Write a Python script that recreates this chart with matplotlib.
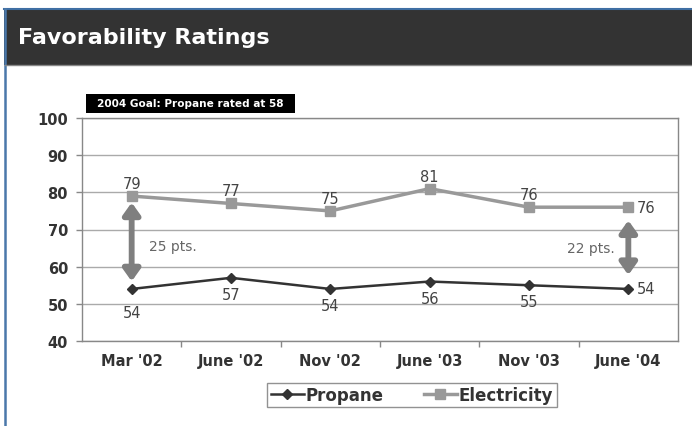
import matplotlib.pyplot as plt
from matplotlib.patches import Rectangle, FancyArrowPatch
from matplotlib.lines import Line2D

categories = ["Mar '02", "June '02", "Nov '02", "June '03", "Nov '03", "June '04"]
propane = [54, 57, 54, 56, 55, 54]
electricity = [79, 77, 75, 81, 76, 76]
gap_labels = ["25 pts.", "22 pts."]
goal_text = "2004 Goal: Propane rated at 58"

W, H = 692, 427


def fx(px):
    return px / W


def fy(py):
    return 1 - py / H


fig = plt.figure(figsize=(W / 100, H / 100), dpi=100)
fig.patch.set_facecolor("white")

# header bar + frame lines
fig.add_artist(Rectangle((fx(4), fy(66)), 1, fy(10) - fy(66), transform=fig.transFigure,
                         facecolor="#333333", edgecolor="none", zorder=0))
fig.add_artist(Line2D([fx(4), 1], [fy(10), fy(10)], transform=fig.transFigure,
                      color="#3f6fa3", linewidth=1.5))
fig.add_artist(Line2D([fx(4.5), fx(4.5)], [fy(10), 0], transform=fig.transFigure,
                      color="#4a78aa", linewidth=1.8))
fig.add_artist(Line2D([fx(5), 1], [fy(66), fy(66)], transform=fig.transFigure,
                      color="#888888", linewidth=1.0))
fig.text(fx(18), fy(38), "Favorability Ratings", color="white", fontsize=16,
         fontweight="bold", va="center", ha="left")

# plot area
ax = fig.add_axes([fx(82), fy(342), fx(678) - fx(82), fy(119) - fy(342)])
x = list(range(len(categories)))
ax.set_xlim(-0.5, len(categories) - 0.5)
ax.set_ylim(40, 100)
ax.set_yticks(range(40, 101, 10))
ax.yaxis.grid(True, color="#aaaaaa", linewidth=1.0)
ax.set_axisbelow(True)
for sp in ax.spines.values():
    sp.set_color("#888888")
    sp.set_linewidth(1.0)
ax.tick_params(axis="y", colors="#888888", length=4, width=1, labelcolor="#333333",
               labelsize=10.5, pad=6)
ax.set_xticks(x)
ax.set_xticklabels(categories)
ax.set_xticks([i + 0.5 for i in x[:-1]], minor=True)
ax.tick_params(axis="x", which="major", length=0, labelcolor="#333333", labelsize=10.5, pad=9)
ax.tick_params(axis="x", which="minor", length=4, width=1, colors="#888888")
for lbl in ax.get_xticklabels() + ax.get_yticklabels():
    lbl.set_fontweight("bold")

ax.plot(x, electricity, color="#999999", linewidth=2.5, marker="s", markersize=7,
        label="Electricity", zorder=3)
ax.plot(x, propane, color="#333333", linewidth=1.8, marker="D", markersize=5,
        label="Propane", zorder=3)

for i, v in enumerate(electricity):
    if i == len(x) - 1:
        ax.annotate(str(v), (i, v), xytext=(6, 0), textcoords="offset points",
                    ha="left", va="center", fontsize=10.5, color="#444444")
    else:
        ax.annotate(str(v), (i, v), xytext=(0, 9), textcoords="offset points",
                    ha="center", va="center", fontsize=10.5, color="#444444")
for i, v in enumerate(propane):
    if i == len(x) - 1:
        ax.annotate(str(v), (i, v), xytext=(6, 0), textcoords="offset points",
                    ha="left", va="center", fontsize=10.5, color="#444444")
    else:
        off = -17 if i == 0 else -12
        ax.annotate(str(v), (i, v), xytext=(0, off), textcoords="offset points",
                    ha="center", va="center", fontsize=10.5, color="#444444")

# gap arrows
for xi, y0, y1 in [(0, 55.3, 78.0), (len(x) - 1, 57.0, 73.2)]:
    ax.add_patch(FancyArrowPatch((xi, y0), (xi, y1),
                                 arrowstyle="<|-|>,head_length=0.35,head_width=0.25",
                                 mutation_scale=20, color="#7f7f7f", linewidth=4.2,
                                 zorder=4))
ax.text(0.17, 65.5, gap_labels[0], color="#666666", fontsize=10, ha="left", va="center")
ax.text(4.86, 65.0, gap_labels[1], color="#666666", fontsize=10, ha="right", va="center")

# goal box
fig.add_artist(Rectangle((fx(86), fy(114)), fx(295) - fx(86), fy(95) - fy(114),
                         transform=fig.transFigure, facecolor="black", edgecolor="none"))
fig.text(fx(190.5), fy(104.5), goal_text, color="white", fontsize=7.6, fontweight="bold",
         ha="center", va="center")

handles, labels = ax.get_legend_handles_labels()
leg = fig.legend(handles[::-1], labels[::-1], loc="center", ncol=2,
                 bbox_to_anchor=(fx(412), fy(396)), frameon=True, fancybox=False,
                 edgecolor="#777777", handlelength=2.0, columnspacing=2.4,
                 borderpad=0.2, handletextpad=0.1, borderaxespad=0,
                 prop={"weight": "bold", "size": 12})
leg.get_frame().set_linewidth(1.0)
for t in leg.get_texts():
    t.set_color("#333333")

fig.savefig("out.png", dpi=100)
